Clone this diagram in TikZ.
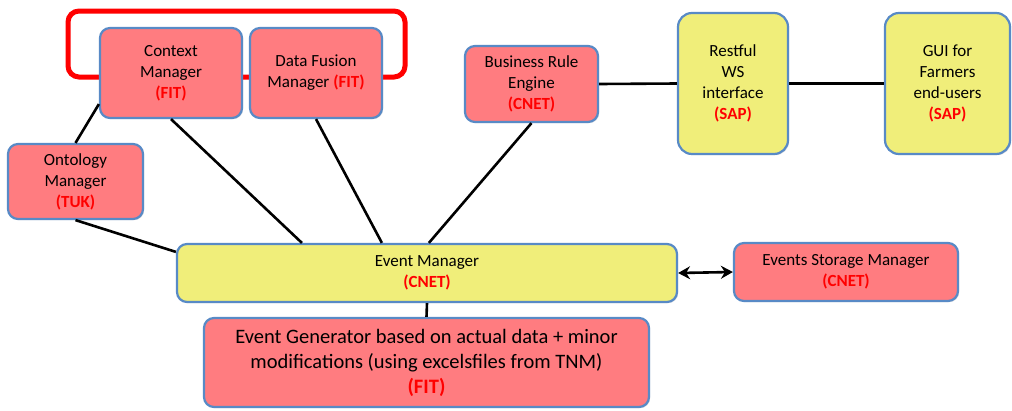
\documentclass[tikz,border=0pt]{standalone}
\usepackage{fontspec}
\setmainfont{Carlito}
\usepackage{xcolor}
\usetikzlibrary{arrows.meta,shadows}

\definecolor{boxred}{RGB}{255,124,128}
\definecolor{boxyellow}{RGB}{240,238,122}
\definecolor{boxblue}{RGB}{88,138,198}
\definecolor{tagred}{RGB}{255,0,0}

\newcommand{\orgtag}[1]{{\bfseries\color{tagred}(#1)}}

\tikzset{
  box/.style={draw=boxblue, line width=2.2pt, rounded corners=10pt, align=center,
    inner sep=0pt, font=\fontsize{17}{21}\selectfont,
    drop shadow={opacity=0.25, shadow xshift=1.2pt, shadow yshift=-1.2pt}},
  redbox/.style={box, fill=boxred},
  yellowbox/.style={box, fill=boxyellow},
  link/.style={draw=black, line width=2.6pt}
}

\begin{document}
\begin{tikzpicture}[x=1pt, y=-1pt]
  \useasboundingbox (0,0) rectangle (1012,410);

  % highlight round the FIT managers
  \draw[tagred, line width=5pt, rounded corners=11pt] (68,11) rectangle (405,77);

  \node[redbox, minimum width=142pt, minimum height=90pt] (ctx) at (171,73)
    {Context\\Manager\\\orgtag{FIT}};
  \node[redbox, minimum width=132pt, minimum height=90pt] (dfm) at (316,73)
    {Data Fusion\\Manager \orgtag{FIT}};
  \node[redbox, minimum width=133pt, minimum height=76pt] (bre) at (531.5,84)
    {Business Rule\\Engine\\\orgtag{CNET}};
  \node[yellowbox, minimum width=110pt, minimum height=141pt, rounded corners=14pt] (rws) at (733,83.5)
    {Restful\\WS\\interface\\\orgtag{SAP}};
  \node[yellowbox, minimum width=125pt, minimum height=141pt, rounded corners=14pt] (gui) at (947.5,83.5)
    {GUI for\\Farmers\\end-users\\\orgtag{SAP}};
  \node[redbox, minimum width=135pt, minimum height=75pt] (ont) at (75.5,181.5)
    {Ontology\\Manager\\\orgtag{TUK}};
  \node[yellowbox, minimum width=500pt, minimum height=58pt] (em) at (427,273)
    {Event Manager\\\orgtag{CNET}};
  \node[redbox, minimum width=224pt, minimum height=58pt] (esm) at (846,272)
    {Events Storage Manager\\\orgtag{CNET}};
  \node[redbox, minimum width=445pt, minimum height=89pt, font=\fontsize{20.5}{25}\selectfont] (eg) at (426.5,362.5)
    {Event Generator based on actual data + minor\\modifications (using excelsfiles from TNM)\\\orgtag{FIT}};

  % connectors
  \draw[link] ([yshift=15pt]ctx.south west) -- (ont.north);
  \draw[link] (ctx.south) -- ([xshift=126pt]em.north west);
  \draw[link] (dfm.south) -- ([xshift=206pt]em.north west);
  \draw[link] (bre.south) -- ([xshift=253pt]em.north west);
  \draw[link] (ont.south) -- ([yshift=-9pt]em.north west);
  \draw[link] (bre.east) -- (rws.west);
  \draw[link] (rws.east) -- (gui.west);
  \draw[link] (em.south) -- (eg.north);
  \draw[link, {Stealth[length=12pt,width=13pt,inset=4pt]}-{Stealth[length=12pt,width=13pt,inset=4pt]}] (em.east) -- (esm.west);
\end{tikzpicture}
\end{document}
